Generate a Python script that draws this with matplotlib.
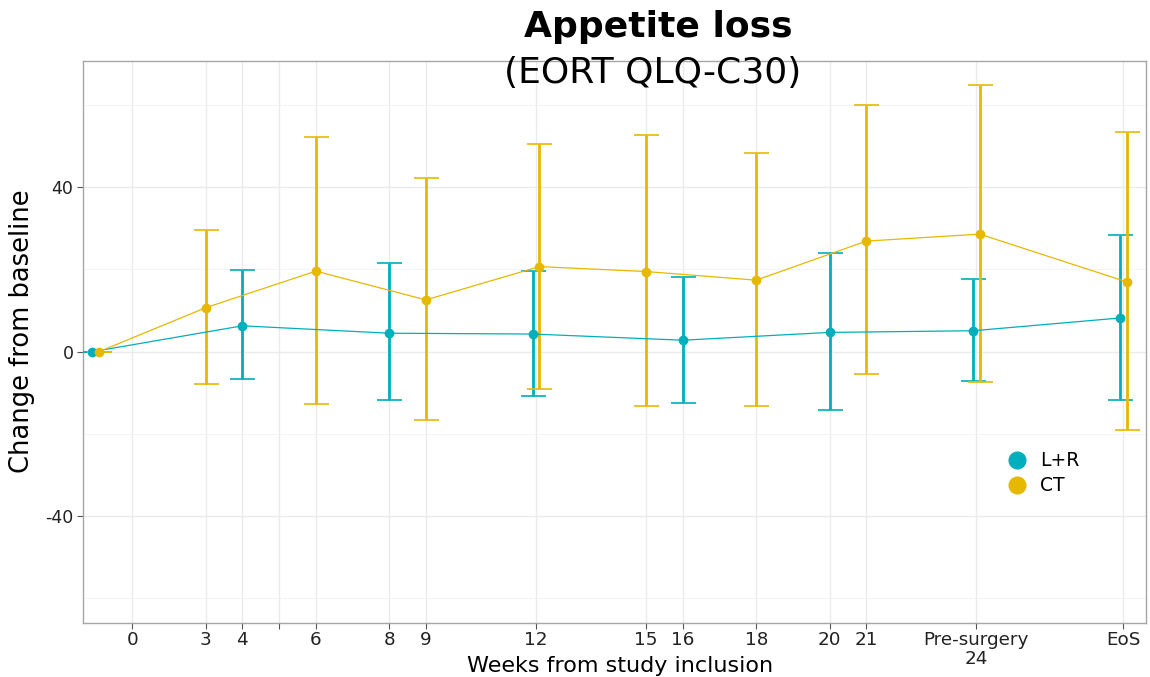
import numpy as np
import matplotlib.pyplot as plt
from matplotlib.lines import Line2D

# L+R arm
weeks_lr = [0, 4, 8, 12, 16, 20, 24, 28]
mean_lr = [0, 6.3, 4.5, 4.3, 2.8, 4.7, 5.1, 8.2]
low_lr = [0, -6.7, -11.8, -10.7, -12.5, -14.1, -7.0, -11.7]
high_lr = [0, 19.9, 21.5, 19.7, 18.2, 24.1, 17.6, 28.5]

# CT arm
weeks_ct = [0, 3, 6, 9, 12, 15, 18, 21, 24, 28]
mean_ct = [0, 10.7, 19.6, 12.6, 20.7, 19.5, 17.4, 26.9, 28.6, 17.0]
low_ct = [0, -7.9, -12.7, -16.5, -9.0, -13.3, -13.1, -5.4, -7.3, -19.1]
high_ct = [0, 29.6, 52.1, 42.2, 50.6, 52.6, 48.3, 59.9, 64.9, 53.5]

tick_weeks = [1, 3, 4, 5, 6, 8, 9, 12, 15, 16, 18, 20, 21, 24, 28]
tick_labels = ["0", "3", "4", "", "6", "8", "9", "12", "15", "16", "18",
               "20", "21", "Pre-surgery\n24", "EoS"]

teal = "#00AFBB"
gold = "#E7B800"

shared = set(weeks_lr) & set(weeks_ct)
dodge = 0.09


def dodged(weeks, sign):
    return np.array([w + sign * dodge if w in shared else w for w in weeks], dtype=float)


fig = plt.figure(figsize=(11.5, 6.77), dpi=100)
ax = fig.add_axes([0.0724, 0.0802, 0.9241, 0.8297])

for weeks, mean, low, high, col, sign in [
    (weeks_lr, mean_lr, low_lr, high_lr, teal, -1),
    (weeks_ct, mean_ct, low_ct, high_ct, gold, 1),
]:
    x = dodged(weeks, sign)
    mean = np.array(mean)
    yerr = [mean - np.array(low), np.array(high) - mean]
    ax.errorbar(x, mean, yerr=yerr, fmt="none", ecolor=col, elinewidth=2.0,
                capsize=9, capthick=1.2, zorder=3)
    ax.plot(x, mean, color=col, lw=0.9, marker="o", markersize=6, zorder=4)

ax.set_xlim(-0.335, 28.62)
ax.set_ylim(-65.9, 70.7)
ax.set_xticks(tick_weeks)
ax.set_xticklabels(tick_labels, fontsize=13.2, linespacing=1.1)
ax.set_yticks([-40, 0, 40])
ax.set_yticklabels(["-40", "0", "40"], fontsize=12.5)
ax.set_yticks([-60, -20, 20, 60], minor=True)
ax.tick_params(axis="both", which="major", length=4, width=0.8, color="#555555",
               labelcolor="#222222", pad=3)
ax.tick_params(axis="x", which="major", pad=2)
ax.tick_params(axis="y", which="minor", length=0)

ax.grid(True, which="major", color="#EBEBEB", lw=1.0, zorder=0)
ax.grid(True, which="minor", axis="y", color="#F2F2F2", lw=0.6, zorder=0)
ax.set_axisbelow(True)
for s in ax.spines.values():
    s.set_color("#A6A6A6")
    s.set_linewidth(1.0)

fig.text(0.5722, 0.9453, "Appetite loss", ha="center", va="baseline",
         fontsize=26, fontweight="bold")
fig.text(0.5678, 0.8774, "(EORT QLQ-C30)", ha="center", va="baseline", fontsize=26)
fig.text(0.019, 0.5103, "Change from baseline", rotation=90, ha="center",
         va="center", fontsize=18.5)
fig.text(0.539, 0.0074, "Weeks from study inclusion", ha="center",
         va="baseline", fontsize=16)

handles = [
    Line2D([], [], color=teal, marker="o", linestyle="none", markersize=12),
    Line2D([], [], color=gold, marker="o", linestyle="none", markersize=12),
]
ax.legend(handles, ["L+R", "CT"], loc="center left", bbox_to_anchor=(0.8526, 0.266),
          frameon=False, fontsize=13.5, handletextpad=0.2, labelspacing=0.3,
          borderpad=0)

plt.savefig("out.png", dpi=100)
